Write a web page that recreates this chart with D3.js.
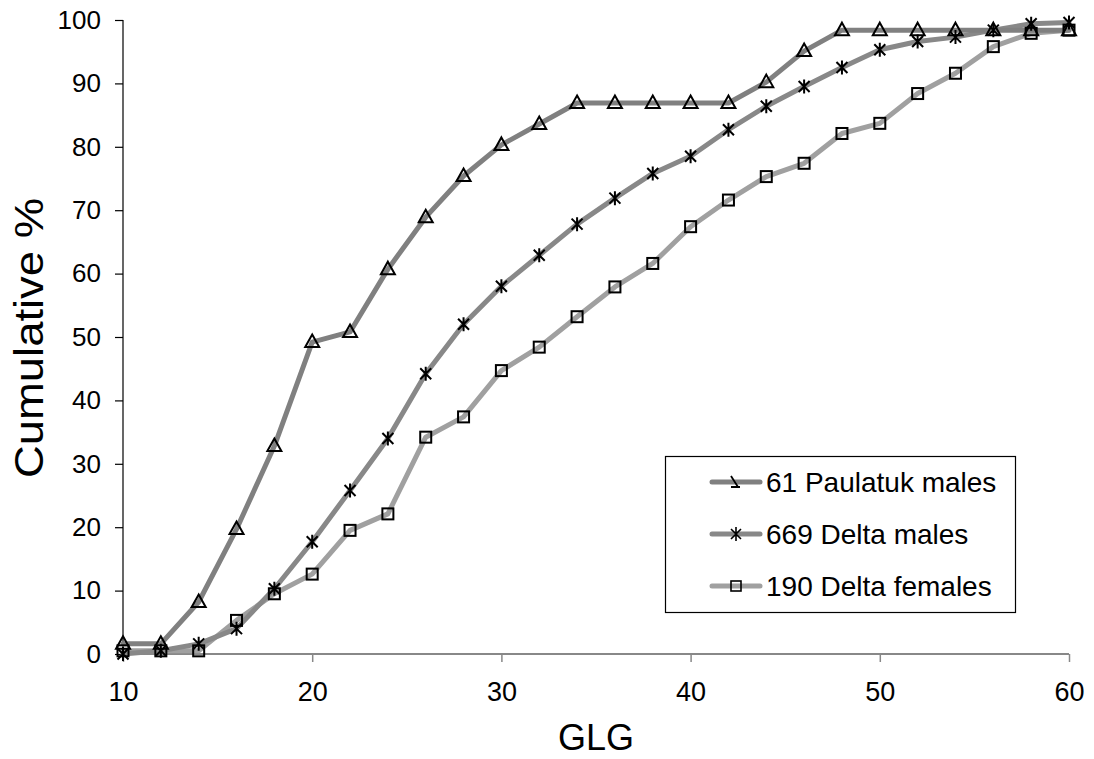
<!DOCTYPE html>
<html>
<head>
<meta charset="utf-8">
<script src="https://cdn.jsdelivr.net/npm/d3@7"></script>
<style>
  html, body { margin: 0; padding: 0; background: #fff; }
  svg { display: block; font-family: "Liberation Sans", Arial, sans-serif; }
</style>
</head>
<body>
<svg id="chart" width="1094" height="759"></svg>
<script>
// ---- data ----
const glg = [10,12,14,16,18,20,22,24,26,28,30,32,34,36,38,40,42,44,46,48,50,52,54,56,58,60];
const paulatukMales = [1.6,1.6,8.2,19.7,32.8,49.2,50.8,60.7,68.9,75.4,80.3,83.6,86.9,86.9,86.9,86.9,86.9,90.2,95.1,98.4,98.4,98.4,98.4,98.4,98.4,98.4];
const deltaMales =    [0,0.5,1.6,4.0,10.3,17.7,25.8,34.0,44.2,52.0,58.0,62.9,67.8,71.9,75.8,78.5,82.7,86.4,89.5,92.5,95.3,96.6,97.3,98.4,99.4,99.6];
const deltaFemales =  [0.5,0.5,0.5,5.3,9.5,12.6,19.5,22.1,34.2,37.4,44.7,48.4,53.2,57.9,61.6,67.4,71.6,75.3,77.4,82.1,83.7,88.4,91.6,95.8,97.9,98.4];
const seriesNames = ["61 Paulatuk males","669 Delta males","190 Delta females"];
const xTicks = [10,20,30,40,50,60];
const yTicks = [0,10,20,30,40,50,60,70,80,90,100];

const series = [
  {name: seriesNames[0], values: paulatukMales, color: "#808080", marker: "triangle"},
  {name: seriesNames[1], values: deltaMales, color: "#888888", marker: "star"},
  {name: seriesNames[2], values: deltaFemales, color: "#a0a0a0", marker: "square"}
];

const svg = d3.select("#chart");
const x = d3.scaleLinear().domain([10,60]).range([123,1069]);
const y = d3.scaleLinear().domain([0,100]).range([654,20]);

// axes
const yAxis = d3.axisLeft(y).tickValues(yTicks).tickSize(8).tickPadding(14);
const gy = svg.append("g").attr("transform","translate(123,0)").call(yAxis);
gy.select(".domain").attr("stroke","#000").attr("stroke-width",1.2).attr("d","M0,20V654");
gy.selectAll(".tick line").attr("stroke","#000").attr("stroke-width",1.2);
gy.selectAll(".tick text").attr("font-size",26).attr("fill","#000")
  .attr("font-family","Liberation Sans, Arial, sans-serif");

const xAxis = d3.axisBottom(x).tickValues(xTicks).tickSize(8).tickPadding(20);
const gx = svg.append("g").attr("transform","translate(0,654)").call(xAxis);
gx.select(".domain").attr("stroke","#888").attr("stroke-width",2).attr("d","M123,0H1069");
gx.selectAll(".tick line").attr("stroke","#888").attr("stroke-width",1.5);
gx.selectAll(".tick text").attr("font-size",27).attr("fill","#000")
  .attr("font-family","Liberation Sans, Arial, sans-serif");

// titles
svg.append("text").attr("x",596).attr("y",750).attr("text-anchor","middle")
  .attr("font-size",36).text("GLG");
svg.append("text").attr("transform","translate(43,338) rotate(-90)").attr("text-anchor","middle")
  .attr("font-size",41).attr("textLength",280).attr("lengthAdjust","spacingAndGlyphs")
  .text("Cumulative %");

// marker drawer
function drawMarker(g, type, cx, cy) {
  if (type === "triangle") {
    g.append("path").attr("d", `M${cx},${cy-7.5}L${cx+7},${cy+5}L${cx-7},${cy+5}Z`)
      .attr("fill","none").attr("stroke","#000").attr("stroke-width",2);
  } else if (type === "square") {
    g.append("rect").attr("x",cx-5.5).attr("y",cy-5.5).attr("width",11).attr("height",11)
      .attr("fill","none").attr("stroke","#000").attr("stroke-width",2);
  } else if (type === "star") {
    g.append("path").attr("d",
      `M${cx-5.5},${cy-5.5}L${cx+5.5},${cy+5.5}M${cx+5.5},${cy-5.5}L${cx-5.5},${cy+5.5}M${cx},${cy-7}L${cx},${cy+7}`)
      .attr("fill","none").attr("stroke","#000").attr("stroke-width",2);
  }
}

const line = d3.line().x((d,i)=>x(glg[i])).y(d=>y(d));

// lines (draw females first so darker lines on top)
const drawOrder = [2,1,0];
drawOrder.forEach(k => {
  const s = series[k];
  svg.append("path").datum(s.values).attr("d", line)
    .attr("fill","none").attr("stroke", s.color).attr("stroke-width",5)
    .attr("stroke-linejoin","round").attr("stroke-linecap","round");
});
drawOrder.forEach(k => {
  const s = series[k];
  const g = svg.append("g");
  s.values.forEach((v,i) => drawMarker(g, s.marker, x(glg[i]), y(v)));
});

// legend
const lg = svg.append("g");
lg.append("rect").attr("x",665.5).attr("y",456.5).attr("width",350).attr("height",156)
  .attr("fill","#fff").attr("stroke","#000").attr("stroke-width",1.2);
const rowY = [482, 534, 586];
series.forEach((s,k) => {
  const ry = rowY[k];
  lg.append("line").attr("x1",712).attr("x2",760).attr("y1",ry).attr("y2",ry)
    .attr("stroke", s.color).attr("stroke-width",5).attr("stroke-linecap","round");
  const mg = lg.append("g");
  if (s.marker === "triangle") {
    mg.append("path").attr("d",`M731,${ry-6}L738,${ry+5}M731,${ry+5}L740,${ry+5}`)
      .attr("fill","none").attr("stroke","#000").attr("stroke-width",1.8);
  } else if (s.marker === "star") {
    mg.append("path").attr("d",`M731,${ry-5}L741,${ry+5}M741,${ry-5}L731,${ry+5}M736,${ry-7}L736,${ry+7}`)
      .attr("fill","none").attr("stroke","#000").attr("stroke-width",1.6);
  } else {
    mg.append("rect").attr("x",731).attr("y",ry-5).attr("width",10).attr("height",10)
      .attr("fill","none").attr("stroke","#000").attr("stroke-width",1.6);
  }
  lg.append("text").attr("x",766).attr("y",ry+10).attr("font-size",28).attr("fill","#000").text(s.name);
});
</script>
</body>
</html>
